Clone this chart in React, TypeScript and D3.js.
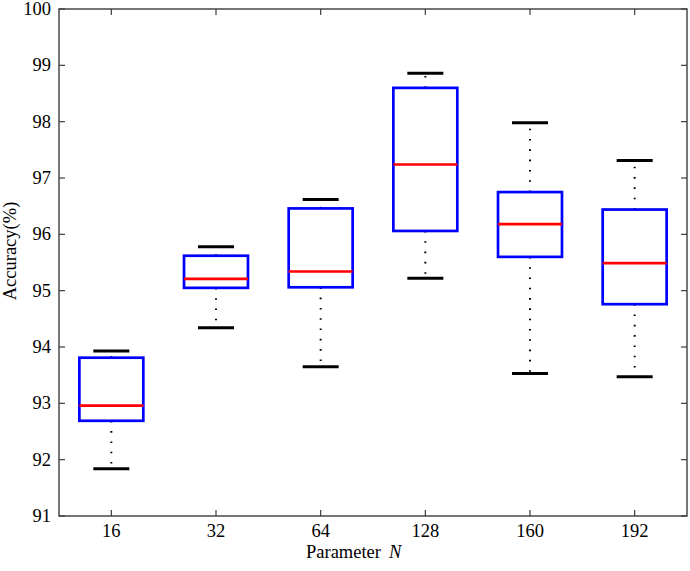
import React from "react";
import * as d3 from "d3";

const categories = ["16", "32", "64", "128", "160", "192"];
const lowerWhisker = [91.84, 94.34, 93.65, 95.22, 93.53, 93.47];
const q1 = [92.69, 95.05, 95.06, 96.06, 95.6, 94.76];
const median = [92.96, 95.21, 95.34, 97.24, 96.18, 95.49];
const q3 = [93.81, 95.62, 96.46, 98.6, 96.75, 96.44];
const upperWhisker = [93.93, 95.78, 96.62, 98.86, 97.98, 97.31];
const yTicks = [91, 92, 93, 94, 95, 96, 97, 98, 99, 100];

const W = 690;
const H = 571;
const left = 59;
const right = 687;
const top = 9;
const bottom = 516;
const FONT = "'Liberation Serif', 'Times New Roman', serif";
const AX = "#3c3c3c";

export default function App() {
  const x = d3.scaleBand<string>().domain(categories).range([left, right]).padding(0);
  const y = d3.scaleLinear().domain([91, 100]).range([bottom, top]);
  const bw = x.bandwidth();
  const boxW = bw * 0.611;
  const capW = bw * 0.344;
  const tickLen = 6;

  return (
    <svg width={W} height={H} style={{ position: "absolute", left: 0, top: 0, background: "#fff" }}>
      <rect x={0} y={0} width={W} height={H} fill="#fff" />
      {categories.map((c, i) => {
        const cx = (x(c) as number) + bw / 2;
        return (
          <g key={c}>
            <line x1={cx} x2={cx} y1={y(q3[i])} y2={y(upperWhisker[i])} stroke="#000" strokeWidth={2} strokeDasharray="1.6 8.7" />
            <line x1={cx} x2={cx} y1={y(q1[i])} y2={y(lowerWhisker[i])} stroke="#000" strokeWidth={2} strokeDasharray="1.6 8.7" />
            <line x1={cx - capW / 2} x2={cx + capW / 2} y1={y(upperWhisker[i])} y2={y(upperWhisker[i])} stroke="#000" strokeWidth={3} />
            <line x1={cx - capW / 2} x2={cx + capW / 2} y1={y(lowerWhisker[i])} y2={y(lowerWhisker[i])} stroke="#000" strokeWidth={3} />
            <rect x={cx - boxW / 2} y={y(q3[i])} width={boxW} height={y(q1[i]) - y(q3[i])} fill="none" stroke="#0000ff" strokeWidth={2.7} />
            <line x1={cx - boxW / 2} x2={cx + boxW / 2} y1={y(median[i])} y2={y(median[i])} stroke="#ff0000" strokeWidth={2.7} />
          </g>
        );
      })}
      <rect x={left} y={top} width={right - left} height={bottom - top} fill="none" stroke={AX} strokeWidth={1.4} />
      {yTicks.map((t) => (
        <g key={t}>
          <line x1={left} x2={left + tickLen} y1={y(t)} y2={y(t)} stroke={AX} strokeWidth={1.2} />
          <line x1={right} x2={right - tickLen} y1={y(t)} y2={y(t)} stroke={AX} strokeWidth={1.2} />
          <text x={left - 8} y={y(t) + 6} textAnchor="end" fontFamily={FONT} fontSize={18.5} fill="#000">{t}</text>
        </g>
      ))}
      {categories.map((c) => {
        const cx = (x(c) as number) + bw / 2;
        return (
          <g key={"t" + c}>
            <line x1={cx} x2={cx} y1={bottom} y2={bottom - tickLen} stroke={AX} strokeWidth={1.2} />
            <line x1={cx} x2={cx} y1={top} y2={top + tickLen} stroke={AX} strokeWidth={1.2} />
            <text x={cx} y={537} textAnchor="middle" fontFamily={FONT} fontSize={18.5} fill="#000">{c}</text>
          </g>
        );
      })}
      <text x={306} y={558} fontFamily={FONT} fontSize={18.5} fill="#000">
        Parameter<tspan dx={8} fontStyle="italic">N</tspan>
      </text>
      <text transform={`translate(16,251) rotate(-90)`} textAnchor="middle" fontFamily={FONT} fontSize={18.5} fill="#000">
        Accuracy(%)
      </text>
    </svg>
  );
}
